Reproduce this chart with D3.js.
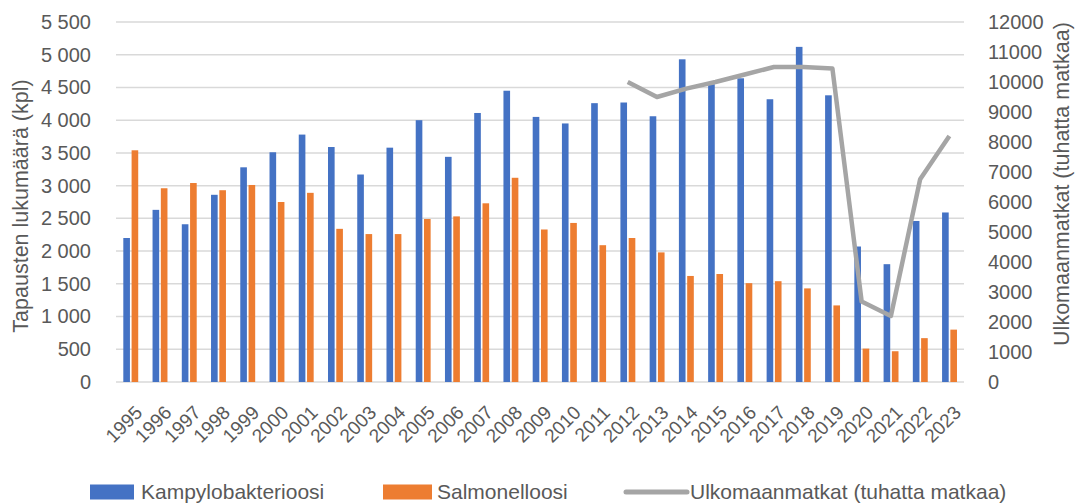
<!DOCTYPE html>
<html>
<head>
<meta charset="utf-8">
<script src="https://cdn.jsdelivr.net/npm/d3@7"></script>
<style>
  body { margin: 0; background: #fff; }
  text { font-family: "Liberation Sans", Arial, sans-serif; fill: #595959; }
</style>
</head>
<body>
<div id="chart"></div>
<script>
// Data
const years = ["1995","1996","1997","1998","1999","2000","2001","2002","2003","2004","2005","2006","2007","2008","2009","2010","2011","2012","2013","2014","2015","2016","2017","2018","2019","2020","2021","2022","2023"];
const kampylo = [2200,2630,2410,2860,3280,3510,3780,3590,3170,3580,4000,3440,4110,4450,4050,3950,4260,4270,4060,4930,4550,4640,4320,5120,4380,2070,1800,2460,2590];
const salmon = [3540,2960,3040,2930,3010,2750,2890,2340,2260,2260,2490,2530,2730,3120,2330,2430,2090,2200,1980,1620,1650,1510,1540,1430,1170,510,470,670,800];
const travelYears = ["2012","2013","2014","2015","2016","2017","2018","2019","2020","2021","2022","2023"];
const travel = [10000,9500,9780,10000,10250,10500,10500,10450,2680,2200,6760,8200];
const leftTicks = [0,500,1000,1500,2000,2500,3000,3500,4000,4500,5000,5500];
const rightTicks = [0,1000,2000,3000,4000,5000,6000,7000,8000,9000,10000,11000,12000];

const width = 1079, height = 504;
const margins = { top: 22, right: 115, bottom: 122, left: 116 };
const blue = "#4472c4", orange = "#ed7d31", grey = "#a5a5a5";

const svg = d3.select("#chart").append("svg")
    .attr("width", width)
    .attr("height", height);

// Scales
const x = d3.scaleBand()
    .domain(years)
    .range([margins.left, width - margins.right]);
const sub = d3.scaleBand()
    .domain(["k", "s"])
    .range([x.bandwidth() * 0.25, x.bandwidth() * 0.76])
    .paddingInner(0.2);
const yLeft = d3.scaleLinear()
    .domain([0, 5500])
    .range([height - margins.bottom, margins.top]);
const yRight = d3.scaleLinear()
    .domain([0, 12000])
    .range([height - margins.bottom, margins.top]);

// Gridlines
svg.append("g")
    .selectAll("line")
    .data(leftTicks)
    .join("line")
    .attr("x1", margins.left)
    .attr("x2", width - margins.right)
    .attr("y1", d => yLeft(d))
    .attr("y2", d => yLeft(d))
    .attr("stroke", "#d9d9d9")
    .attr("stroke-width", 1.5);

// Left axis
const fmt = d => d3.format(",")(d).replace(",", " ");
const leftAxis = svg.append("g")
    .attr("transform", `translate(${margins.left - 22},0)`)
    .call(d3.axisLeft(yLeft).tickValues(leftTicks).tickFormat(fmt).tickSize(0));
leftAxis.select(".domain").remove();
leftAxis.selectAll("text")
    .attr("font-size", 20)
    .attr("font-family", "Liberation Sans, Arial, sans-serif")
    .attr("fill", "#595959");

// Right axis
const rightAxis = svg.append("g")
    .attr("transform", `translate(${width - margins.right + 21},0)`)
    .call(d3.axisRight(yRight).tickValues(rightTicks).tickFormat(d3.format("d")).tickSize(0));
rightAxis.select(".domain").remove();
rightAxis.selectAll("text")
    .attr("font-size", 20)
    .attr("font-family", "Liberation Sans, Arial, sans-serif")
    .attr("fill", "#595959");

// X axis labels
const xAxis = svg.append("g")
    .attr("transform", `translate(0,${height - margins.bottom})`)
    .call(d3.axisBottom(x).tickSize(0));
xAxis.select(".domain").remove();
xAxis.selectAll("text")
    .attr("font-size", 19)
    .attr("font-family", "Liberation Sans, Arial, sans-serif")
    .attr("fill", "#595959")
    .attr("text-anchor", "end")
    .attr("dy", "0.35em")
    .attr("transform", "translate(6,25) rotate(-45)");

// Bars
svg.append("g")
    .selectAll("rect")
    .data(kampylo)
    .join("rect")
    .attr("x", (d, i) => x(years[i]) + sub("k"))
    .attr("y", d => yLeft(d))
    .attr("width", sub.bandwidth())
    .attr("height", d => yLeft(0) - yLeft(d))
    .attr("fill", blue);

svg.append("g")
    .selectAll("rect")
    .data(salmon)
    .join("rect")
    .attr("x", (d, i) => x(years[i]) + sub("s"))
    .attr("y", d => yLeft(d))
    .attr("width", sub.bandwidth())
    .attr("height", d => yLeft(0) - yLeft(d))
    .attr("fill", orange);

// Travel line
const line = d3.line()
    .x((d, i) => x(travelYears[i]) + x.bandwidth() / 2)
    .y(d => yRight(d));
svg.append("path")
    .datum(travel)
    .attr("d", line)
    .attr("fill", "none")
    .attr("stroke", grey)
    .attr("stroke-width", 4.5)
    .attr("stroke-linejoin", "round");

// Axis titles
svg.append("text")
    .attr("transform", `translate(28,206) rotate(-90)`)
    .attr("text-anchor", "middle")
    .attr("font-size", 21.5)
    .text("Tapausten lukumäärä (kpl)");
svg.append("text")
    .attr("transform", `translate(1069,184) rotate(-90)`)
    .attr("text-anchor", "middle")
    .attr("font-size", 21.5)
    .text("Ulkomaanmatkat (tuhatta matkaa)");

// Legend
const legend = svg.append("g")
    .attr("transform", "translate(0,492)");
legend.append("rect")
    .attr("x", 90).attr("y", -7.5).attr("width", 44).attr("height", 15)
    .attr("fill", blue);
legend.append("text")
    .attr("x", 141).attr("y", 0).attr("dy", "0.35em")
    .attr("font-size", 21)
    .text("Kampylobakterioosi");
legend.append("rect")
    .attr("x", 383).attr("y", -7.5).attr("width", 49).attr("height", 15)
    .attr("fill", orange);
legend.append("text")
    .attr("x", 437).attr("y", 0).attr("dy", "0.35em")
    .attr("font-size", 21)
    .text("Salmonelloosi");
legend.append("line")
    .attr("x1", 626).attr("x2", 687).attr("y1", 0).attr("y2", 0)
    .attr("stroke", grey).attr("stroke-width", 5).attr("stroke-linecap", "round");
legend.append("text")
    .attr("x", 690).attr("y", 0).attr("dy", "0.35em")
    .attr("font-size", 21)
    .text("Ulkomaanmatkat (tuhatta matkaa)");
</script>
</body>
</html>
